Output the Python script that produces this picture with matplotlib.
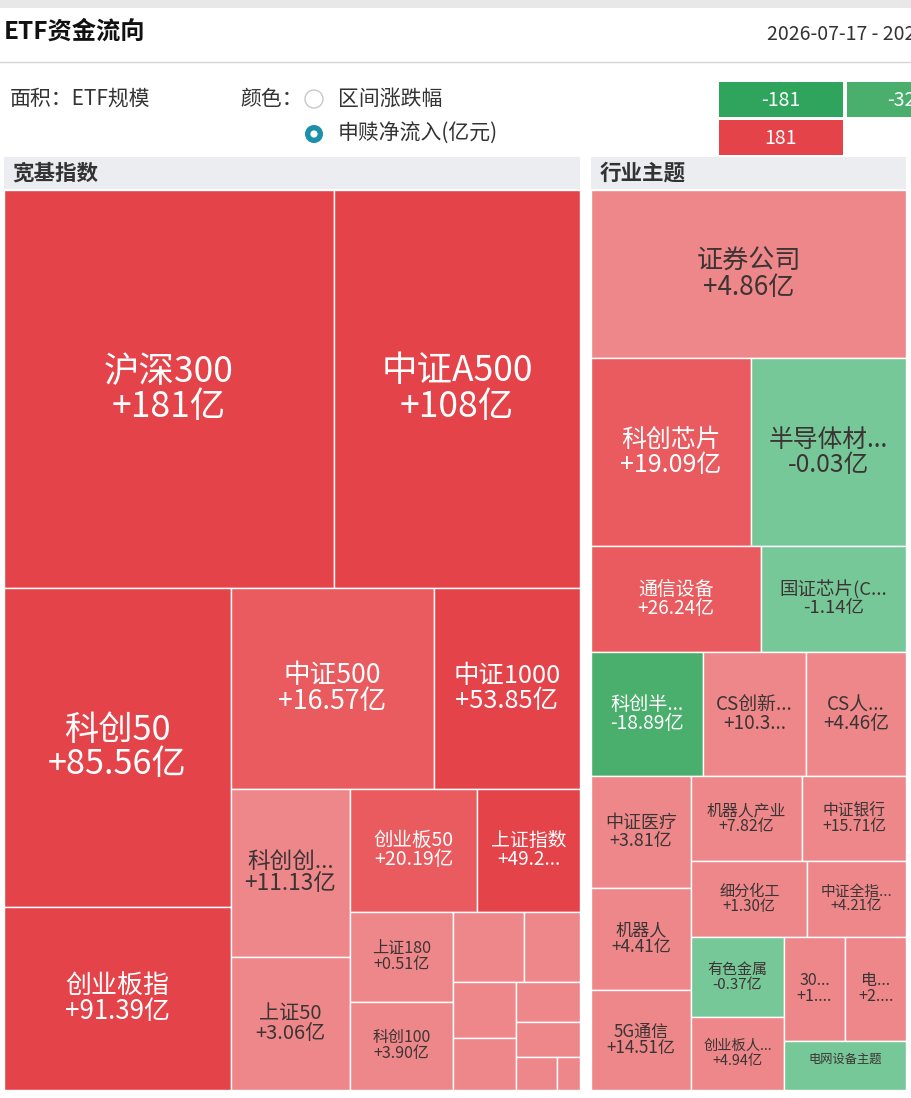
import matplotlib
matplotlib.use('Agg')
import matplotlib.pyplot as plt
from matplotlib.patches import Rectangle, Circle

plt.rcParams['font.family'] = ['Noto Sans CJK SC', 'DejaVu Sans']

# 宽基指数: 名称, ETF规模(亿元, 面积), 申赎净流入(亿元, 颜色)
broad_names = ['沪深300', '中证A500', '科创50', '创业板指', '中证500', '中证1000',
               '科创创...', '上证50', '创业板50', '上证指数', '上证180', '科创100',
               '中证红利', '深证100', '中证2000', '红利低波', '科创200', '深证成指',
               '北证50', '创业板200']
broad_size = [13134, 9791, 7219, 4154, 4060, 2920, 1999, 1583, 1562, 1267, 927, 906,
              497, 392, 353, 328, 256, 225, 136, 78]
broad_flow = [181.0, 108.0, 85.56, 91.39, 16.57, 53.85, 11.13, 3.06, 20.19, 49.23,
              0.51, 3.90, 2.10, 1.50, 3.20, 0.80, 1.10, 0.60, 0.40, 0.30]

# 行业主题
theme_names = ['证券公司', '科创芯片', '半导体材...', '通信设备', '国证芯片(C...', '科创半...',
               'CS创新...', 'CS人...', '中证医疗', '机器人', '5G通信', '机器人产业',
               '中证银行', '细分化工', '中证全指...', '有色金属', '创业板人...', '30...',
               '电...', '电网设备主题']
theme_size = [5292, 2992, 2899, 1802, 1537, 1380, 1263, 1238, 1120, 1020, 1000, 944,
              884, 878, 745, 740, 672, 639, 628, 600]
theme_flow = [4.86, 19.09, -0.03, 26.24, -1.14, -18.89, 10.35, 4.46, 3.81, 4.41, 14.51,
              7.82, 15.71, 1.30, 4.21, -0.37, 4.94, 1.52, 2.18, -2.35]

# 数值标签被截断 / 被遮挡的格子
value_cut = {'上证指数': 5, 'CS创新...': 5, '30...': 3, '电...': 3}
value_hidden = {'电网设备主题'}

# 颜色分段
bins = [-32, -16, 0, 16, 32]
bin_colors = ['#2fa45c', '#4aae6d', '#77c898', '#ed8789', '#e95b5f', '#e4434a']
legend_labels = ['-181', '-32.4', '181']


def flow_color(v):
    k = 0
    while k < len(bins) and v >= bins[k]:
        k += 1
    return bin_colors[k]


def worst(row_areas, fixed, ratio=1.0):
    s = sum(row_areas)
    f = fixed * fixed * ratio
    return max(f * max(row_areas) / (s * s), s * s / (f * min(row_areas)))


def squarify(sizes, x, y, w, h):
    total = float(sum(sizes))
    areas = [s * w * h / total for s in sizes]
    rect = {'x': x, 'y': y, 'w': w, 'h': h}
    boxes = [None] * len(sizes)

    def position(row, fixed, flush):
        row_area = sum(areas[k] for k in row)
        horiz = fixed == rect['w']
        other = row_area / fixed
        lim = rect['h'] if horiz else rect['w']
        if flush or other > lim:
            other = lim
        start = rect['x'] if horiz else rect['y']
        end = start + (rect['w'] if horiz else rect['h'])
        last = start
        for j, k in enumerate(row):
            step = areas[k] / other
            remain = end - last
            d = remain if (j == len(row) - 1 or remain < step) else step
            if horiz:
                boxes[k] = (last, rect['y'], d, other)
            else:
                boxes[k] = (rect['x'], last, other, d)
            last += d
        if horiz:
            rect['y'] += other
            rect['h'] -= other
        else:
            rect['x'] += other
            rect['w'] -= other

    fixed = min(w, h)
    best = float('inf')
    row = []
    i = 0
    while i < len(sizes):
        row.append(i)
        score = worst([areas[k] for k in row], fixed)
        if score <= best:
            i += 1
            best = score
        else:
            row.pop()
            position(row, fixed, False)
            fixed = min(rect['w'], rect['h'])
            row = []
            best = float('inf')
    if row:
        position(row, fixed, True)
    return boxes


def text_em(s):
    n = 0.0
    for ch in s:
        if ord(ch) > 0x2e80:
            n += 1.0
        elif ch == '.':
            n += 0.22
        else:
            n += 0.56
    return n


def draw_treemap(ax, names, sizes, flows, x, y, w, h):
    boxes = squarify(sizes, x, y, w, h)
    for name, v, (bx, by, bw, bh) in zip(names, flows, boxes):
        c = flow_color(v)
        ax.add_patch(Rectangle((bx, by), bw, bh, facecolor=c, edgecolor='white', lw=1.0))
        if bw * bh < 5500:
            continue
        val = '%+.0f' % v if abs(v) >= 100 else '%+.2f' % v
        if name in value_cut:
            val = val[:value_cut[name]] + '...'
        else:
            val += '亿'
        fs = min(0.85 * bw ** 0.15 * bh ** 0.5, 35.5)
        em = max(text_em(name), text_em(val))
        fs = min(fs, (bw - 6) / em)
        tc = 'white' if abs(v) >= 16 else '#3c3434'
        cx, cy = bx + bw / 2, by + bh / 2
        ls = 1.0 * fs
        ax.text(cx, cy - ls / 2, name, ha='center', va='center', color=tc,
                fontsize=fs * 0.72)
        if name not in value_hidden:
            ax.text(cx, cy + ls / 2, val, ha='center', va='center', color=tc,
                    fontsize=fs * 0.72)


fig = plt.figure(figsize=(9.12, 10.98), dpi=100)
ax = fig.add_axes([0, 0, 1, 1])
ax.set_xlim(0, 912)
ax.set_ylim(1098, 0)
ax.axis('off')

# 顶部
ax.add_patch(Rectangle((0, 0), 912, 8, facecolor='#e8e8e8', lw=0))
ax.text(4, 32, 'ETF资金流向', fontsize=17.5, fontweight='bold', color='#111', va='center')
ax.text(767, 35, '2026-07-17 - 2026-07-24', fontsize=14, color='#333', va='center')
ax.plot([0, 912], [62, 62], color='#d6d6d6', lw=1)

ax.text(10, 99, '面积：ETF规模', fontsize=15, color='#333', va='center')
ax.text(240, 99, '颜色：', fontsize=15, color='#333', va='center')
ax.add_patch(Circle((314, 99), 9, facecolor='white', edgecolor='#c8c8c8', lw=1))
ax.add_patch(Circle((314, 134), 9, facecolor='#1b90a8', lw=0))
ax.add_patch(Circle((314, 134), 3.6, facecolor='white', lw=0))
ax.text(338, 99, '区间涨跌幅', fontsize=15, color='#333', va='center')
ax.text(338, 134, '申赎净流入(亿元)', fontsize=15, color='#333', va='center')

# 图例
legend_pos = [(719, 82), (847, 82), (719, 120)]
legend_cols = [bin_colors[0], bin_colors[1], bin_colors[-1]]
for (lx, ly), lc, lt in zip(legend_pos, legend_cols, legend_labels):
    ax.add_patch(Rectangle((lx, ly), 124, 35, facecolor=lc, lw=0))
    ax.text(lx + 62, ly + 18, lt, ha='center', va='center', color='white', fontsize=14)

# 分组标题
ax.add_patch(Rectangle((4, 157), 576, 32, facecolor='#ebedf0', lw=0))
ax.text(12, 173, '宽基指数', fontsize=15.5, fontweight='bold', color='#333', va='center')
ax.add_patch(Rectangle((591, 157), 315, 32, facecolor='#ebedf0', lw=0))
ax.text(600, 173, '行业主题', fontsize=15.5, fontweight='bold', color='#333', va='center')

draw_treemap(ax, broad_names, broad_size, broad_flow, 4, 190, 576, 900)
draw_treemap(ax, theme_names, theme_size, theme_flow, 591, 190, 315, 900)

fig.savefig('out.png', dpi=100)
